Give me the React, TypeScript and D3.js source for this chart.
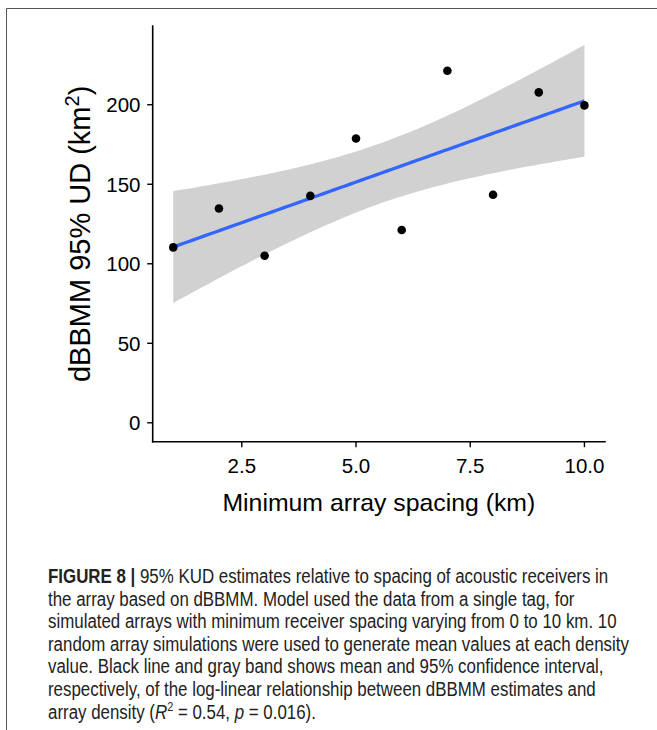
import React from "react";
import * as d3 from "d3";

// ---- data ----
const spacingKm = [1, 2, 3, 4, 5, 6, 7, 8, 9, 10];
const udKm2 = [110.3, 134.8, 105.0, 142.7, 178.8, 121.2, 221.4, 143.4, 207.8, 199.6];
const xTicks = [2.5, 5.0, 7.5, 10.0];
const yTicks = [0, 50, 100, 150, 200];
const CI_Z = 1.96; // multiplier for the confidence band
const Y_LIMIT_LOW = 0; // y axis forced to include zero

const xTitle = "Minimum array spacing (km)";
const yTitleMain = "dBBMM 95% UD (km";
const captionBold = "FIGURE 8 | ";
const captionLines = [
  "95% KUD estimates relative to spacing of acoustic receivers in",
  "the array based on dBBMM. Model used the data from a single tag, for",
  "simulated arrays with minimum receiver spacing varying from 0 to 10 km. 10",
  "random array simulations were used to generate mean values at each density",
  "value. Black line and gray band shows mean and 95% confidence interval,",
  "respectively, of the log-linear relationship between dBBMM estimates and",
];

export default function App() {
  const W = 657;
  const H = 730;
  const panel = { left: 152.7, right: 605, top: 26, bottom: 441.7 };

  // linear regression (geom_smooth method = "lm")
  const n = spacingKm.length;
  const mx = d3.mean(spacingKm) as number;
  const my = d3.mean(udKm2) as number;
  const sxx = d3.sum(spacingKm, (v) => (v - mx) ** 2);
  const sxy = d3.sum(spacingKm.map((v, i) => (v - mx) * (udKm2[i] - my)));
  const slope = sxy / sxx;
  const icpt = my - slope * mx;
  const ssr = d3.sum(spacingKm.map((v, i) => (udKm2[i] - (icpt + slope * v)) ** 2));
  const s = Math.sqrt(ssr / (n - 2));
  const [x0, x1] = d3.extent(spacingKm) as [number, number];
  const grid = d3.range(80).map((i) => x0 + ((x1 - x0) * i) / 79);
  const fit = grid.map((xv) => {
    const yh = icpt + slope * xv;
    const se = s * Math.sqrt(1 / n + (xv - mx) ** 2 / sxx);
    return { x: xv, y: yh, lo: yh - CI_Z * se, hi: yh + CI_Z * se };
  });

  const xPad = 0.05 * (x1 - x0);
  const x = d3.scaleLinear().domain([x0 - xPad, x1 + xPad]).range([panel.left, panel.right]);
  const yHi = d3.max(fit, (d) => d.hi) as number;
  const yPad = 0.05 * (yHi - Y_LIMIT_LOW);
  const y = d3.scaleLinear().domain([Y_LIMIT_LOW - yPad, yHi + yPad]).range([panel.bottom, panel.top]);

  const area = d3
    .area<any>()
    .x((d) => x(d.x))
    .y0((d) => y(d.lo))
    .y1((d) => y(d.hi));
  const line = d3
    .line<any>()
    .x((d) => x(d.x))
    .y((d) => y(d.y));

  const fmtX = d3.format(".1f");
  const tickFont = "'Liberation Sans', Arial, sans-serif";
  const capX = 48;
  const capY0 = 583;
  const capDy = 22.6;
  const capScale = 0.866;
  const capSize = 19.5;

  return (
    <svg
      width={W}
      height={H}
      style={{ position: "absolute", left: 0, top: 0, background: "#fff" }}
      fontFamily={tickFont}
    >
      <rect x={0} y={0} width={W} height={H} fill="#fff" />
      {/* frame */}
      <line x1={6.5} y1={8.5} x2={W} y2={8.5} stroke="#555" strokeWidth={1} />
      <line x1={6.5} y1={8.5} x2={6.5} y2={H} stroke="#555" strokeWidth={1} />

      {/* band and fit */}
      <path d={area(fit) as string} fill="#d1d1d1" />
      <path d={line(fit) as string} fill="none" stroke="#3366FF" strokeWidth={3.3} />

      {/* points */}
      {spacingKm.map((xv, i) => (
        <circle key={i} cx={x(xv)} cy={y(udKm2[i])} r={4.3} fill="#000" />
      ))}

      {/* axes */}
      <line x1={panel.left} y1={panel.top} x2={panel.left} y2={panel.bottom} stroke="#000" strokeWidth={1.6} strokeLinecap="square" />
      <line x1={panel.left} y1={panel.bottom} x2={panel.right} y2={panel.bottom} stroke="#000" strokeWidth={1.6} strokeLinecap="square" />
      {yTicks.map((t) => (
        <g key={"y" + t}>
          <line x1={panel.left - 5.5} x2={panel.left} y1={y(t)} y2={y(t)} stroke="#000" strokeWidth={1.4} />
          <text x={140.5} y={y(t)} dy="0.36em" textAnchor="end" fontSize={20.5} fill="#000">
            {t}
          </text>
        </g>
      ))}
      {xTicks.map((t) => (
        <g key={"x" + t}>
          <line x1={x(t)} x2={x(t)} y1={panel.bottom} y2={panel.bottom + 5.5} stroke="#000" strokeWidth={1.4} />
          <text x={x(t)} y={473} textAnchor="middle" fontSize={20.5} fill="#000">
            {fmtX(t)}
          </text>
        </g>
      ))}

      {/* axis titles */}
      <text x={(panel.left + panel.right) / 2} y={511} textAnchor="middle" fontSize={24.8} fill="#000">
        {xTitle}
      </text>
      <text
        transform={`translate(90,${(panel.top + panel.bottom) / 2}) rotate(-90)`}
        textAnchor="middle"
        fontSize={29}
        fill="#000"
      >
        {yTitleMain}
        <tspan fontSize={20} dy={-11}>2</tspan>
        <tspan dy={11}>)</tspan>
      </text>

      {/* caption */}
      <g transform={`translate(${capX},0) scale(${capScale},1)`} fontSize={capSize} fill="#222">
        <text x={0} y={capY0}>
          <tspan fontWeight="bold">{captionBold}</tspan>
          {captionLines[0]}
        </text>
        {captionLines.slice(1).map((l, i) => (
          <text key={i} x={0} y={capY0 + capDy * (i + 1)}>
            {l}
          </text>
        ))}
        <text x={0} y={capY0 + capDy * 6}>
          {"array density ("}
          <tspan fontStyle="italic">R</tspan>
          <tspan fontSize={12.5} dy={-7.5}>2</tspan>
          <tspan dy={7.5}>{" = 0.54, "}</tspan>
          <tspan fontStyle="italic">p</tspan>
          {" = 0.016)."}
        </text>
      </g>
    </svg>
  );
}
